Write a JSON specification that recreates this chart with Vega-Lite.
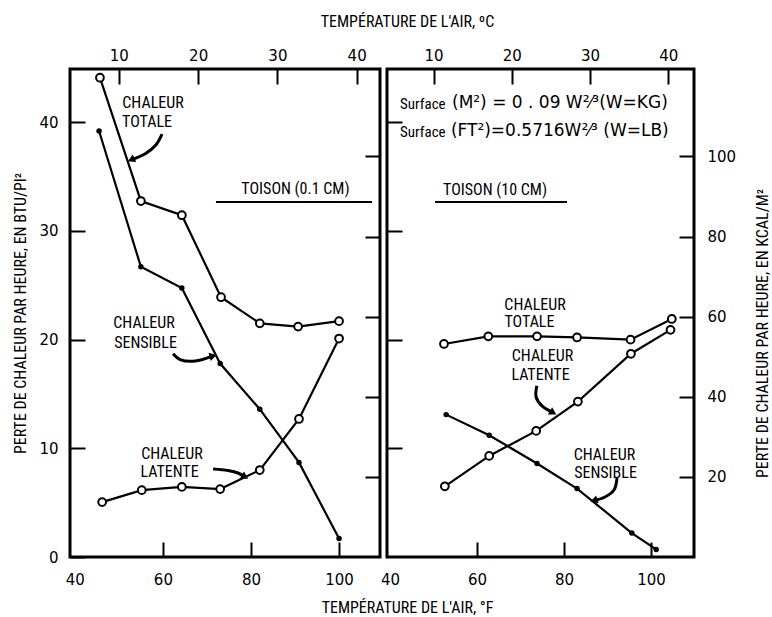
{
  "$schema": "https://vega.github.io/schema/vega-lite/v6.json",
  "background": "white",
  "padding": {"left": 11, "top": 11, "right": 0, "bottom": 0},
  "spacing": 7,
  "bounds": "flush",
  "config": {
    "view": {"stroke": "black", "strokeWidth": 3},
    "axis": {"domain": false, "grid": false, "tickColor": "black", "tickWidth": 2, "tickSize": -15, "labelFont": "DejaVu Sans", "labelFontSize": 15, "labelColor": "black", "labelOverlap": false, "labelFlush": false, "titleFont": "Liberation Sans Narrow, Roboto Condensed, DejaVu Sans Condensed, sans-serif", "titleFontSize": 16, "titleFontWeight": "normal", "titleColor": "black"},
    "text": {"font": "Liberation Sans Narrow, Roboto Condensed, DejaVu Sans Condensed, sans-serif", "fontSize": 16, "color": "black"}
  },
  "datasets": {
    "pts": [
      {"panel": "L", "series": "T", "F": 45.7, "BTU": 44.1},
      {"panel": "L", "series": "T", "F": 55.0, "BTU": 32.75},
      {"panel": "L", "series": "T", "F": 64.3, "BTU": 31.45},
      {"panel": "L", "series": "T", "F": 73.2, "BTU": 23.9},
      {"panel": "L", "series": "T", "F": 82.0, "BTU": 21.5},
      {"panel": "L", "series": "T", "F": 90.7, "BTU": 21.2},
      {"panel": "L", "series": "T", "F": 100.0, "BTU": 21.7},
      {"panel": "L", "series": "S", "F": 45.5, "BTU": 39.2},
      {"panel": "L", "series": "S", "F": 55.0, "BTU": 26.7},
      {"panel": "L", "series": "S", "F": 64.3, "BTU": 24.75},
      {"panel": "L", "series": "S", "F": 73.0, "BTU": 17.8},
      {"panel": "L", "series": "S", "F": 82.0, "BTU": 13.6},
      {"panel": "L", "series": "S", "F": 90.9, "BTU": 8.7},
      {"panel": "L", "series": "S", "F": 100.0, "BTU": 1.7},
      {"panel": "L", "series": "La", "F": 46.2, "BTU": 5.05},
      {"panel": "L", "series": "La", "F": 55.2, "BTU": 6.15},
      {"panel": "L", "series": "La", "F": 64.3, "BTU": 6.45},
      {"panel": "L", "series": "La", "F": 73.0, "BTU": 6.25},
      {"panel": "L", "series": "La", "F": 82.0, "BTU": 8.0},
      {"panel": "L", "series": "La", "F": 90.9, "BTU": 12.7},
      {"panel": "L", "series": "La", "F": 100.0, "BTU": 20.1},
      {"panel": "R", "series": "T", "F": 52.4, "BTU": 19.6},
      {"panel": "R", "series": "T", "F": 62.6, "BTU": 20.3},
      {"panel": "R", "series": "T", "F": 73.8, "BTU": 20.3},
      {"panel": "R", "series": "T", "F": 83.0, "BTU": 20.2},
      {"panel": "R", "series": "T", "F": 95.3, "BTU": 20.0},
      {"panel": "R", "series": "T", "F": 104.8, "BTU": 21.9},
      {"panel": "R", "series": "S", "F": 52.9, "BTU": 13.1},
      {"panel": "R", "series": "S", "F": 62.8, "BTU": 11.2},
      {"panel": "R", "series": "S", "F": 73.8, "BTU": 8.6},
      {"panel": "R", "series": "S", "F": 83.0, "BTU": 6.3},
      {"panel": "R", "series": "S", "F": 95.6, "BTU": 2.2},
      {"panel": "R", "series": "S", "F": 101.2, "BTU": 0.7},
      {"panel": "R", "series": "La", "F": 52.6, "BTU": 6.5},
      {"panel": "R", "series": "La", "F": 62.8, "BTU": 9.3},
      {"panel": "R", "series": "La", "F": 73.6, "BTU": 11.6},
      {"panel": "R", "series": "La", "F": 83.2, "BTU": 14.3},
      {"panel": "R", "series": "La", "F": 95.4, "BTU": 18.7},
      {"panel": "R", "series": "La", "F": 104.5, "BTU": 20.9}
    ],
    "labels": [
      {"panel": "L", "t": "CHALEUR", "F": 57.75, "BTU": 41.75},
      {"panel": "L", "t": "TOTALE", "F": 56.4, "BTU": 40.0},
      {"panel": "L", "t": "TOISON (0.1 CM)", "F": 90.1, "BTU": 33.85},
      {"panel": "L", "t": "CHALEUR", "F": 55.7, "BTU": 21.5},
      {"panel": "L", "t": "SENSIBLE", "F": 56.05, "BTU": 19.65},
      {"panel": "L", "t": "CHALEUR", "F": 62.05, "BTU": 9.5},
      {"panel": "L", "t": "LATENTE", "F": 61.5, "BTU": 7.8},
      {"panel": "R", "t": "TOISON (10 CM)", "F": 64.15, "BTU": 33.75},
      {"panel": "R", "t": "CHALEUR", "F": 73.35, "BTU": 23.2},
      {"panel": "R", "t": "TOTALE", "F": 72.05, "BTU": 21.6},
      {"panel": "R", "t": "CHALEUR", "F": 75.05, "BTU": 18.45},
      {"panel": "R", "t": "LATENTE", "F": 74.6, "BTU": 16.7},
      {"panel": "R", "t": "CHALEUR", "F": 89.3, "BTU": 9.4},
      {"panel": "R", "t": "SENSIBLE", "F": 89.55, "BTU": 7.7}
    ],
    "formula": [
      {"part": "word", "t": "Surface", "F": 42.3, "BTU": 41.65},
      {"part": "word", "t": "Surface", "F": 42.3, "BTU": 39.1},
      {"part": "eq", "t": "(M²) = 0 . 09 W²⁄³(W=KG)", "F": 54.25, "BTU": 41.75},
      {"part": "eq", "t": "(FT²)=0.5716W²⁄³ (W=LB)", "F": 54.0, "BTU": 39.2}
    ],
    "underline": [
      {"panel": "L", "F1": 72.05, "F2": 107.5, "BTU": 32.66},
      {"panel": "R", "F1": 50.35, "F2": 80.7, "BTU": 32.66}
    ],
    "arrows": [
      {"panel": "L", "id": "a1", "o": 1, "F": 59.8, "BTU": 38.9},
      {"panel": "L", "id": "a1", "o": 2, "F": 58.4, "BTU": 37.9},
      {"panel": "L", "id": "a1", "o": 3, "F": 56.0, "BTU": 37.1},
      {"panel": "L", "id": "a1", "o": 4, "F": 52.8, "BTU": 36.55},
      {"panel": "L", "id": "a2", "o": 1, "F": 62.3, "BTU": 18.7},
      {"panel": "L", "id": "a2", "o": 2, "F": 63.9, "BTU": 18.17},
      {"panel": "L", "id": "a2", "o": 3, "F": 67.3, "BTU": 18.03},
      {"panel": "L", "id": "a2", "o": 4, "F": 71.4, "BTU": 18.5},
      {"panel": "L", "id": "a3", "o": 1, "F": 71.4, "BTU": 8.1},
      {"panel": "L", "id": "a3", "o": 2, "F": 74.8, "BTU": 7.96},
      {"panel": "L", "id": "a3", "o": 3, "F": 77.05, "BTU": 7.73},
      {"panel": "L", "id": "a3", "o": 4, "F": 78.65, "BTU": 7.36},
      {"panel": "R", "id": "a4", "o": 1, "F": 73.75, "BTU": 15.75},
      {"panel": "R", "id": "a4", "o": 2, "F": 73.6, "BTU": 14.7},
      {"panel": "R", "id": "a4", "o": 3, "F": 74.95, "BTU": 13.9},
      {"panel": "R", "id": "a4", "o": 4, "F": 77.5, "BTU": 13.28},
      {"panel": "R", "id": "a5", "o": 1, "F": 92.2, "BTU": 7.27},
      {"panel": "R", "id": "a5", "o": 2, "F": 91.5, "BTU": 6.16},
      {"panel": "R", "id": "a5", "o": 3, "F": 89.45, "BTU": 5.52},
      {"panel": "R", "id": "a5", "o": 4, "F": 86.9, "BTU": 5.2}
    ]
  },
  "hconcat": [
    {
      "width": 310,
      "height": 488,
      "resolve": {"axis": {"x": "independent", "y": "independent"}},
      "layer": [
        {
          "data": {"name": "pts"},
          "transform": [{"filter": "datum.panel == 'L'"}],
          "mark": {"type": "line", "color": "black", "strokeWidth": 2.2},
          "encoding": {
            "x": {"field": "F", "type": "quantitative", "scale": {"domain": [38.9, 109.3], "nice": false, "zero": false},
              "axis": {"orient": "bottom", "values": [40, 60, 80, 100], "title": "TEMPÉRATURE DE L'AIR, °F", "titleX": 337, "labelPadding": 30, "titlePadding": 12,
                "tickOpacity": {"condition": {"test": "datum.value == 40", "value": 0}, "value": 1}}},
            "y": {"field": "BTU", "type": "quantitative", "scale": {"domain": [0, 44.9], "nice": false, "zero": false},
              "axis": {"orient": "left", "values": [0, 10, 20, 30, 40], "title": "PERTE DE CHALEUR PAR HEURE, EN BTU/PI²", "labelPadding": 27, "titlePadding": 10}},
            "detail": {"field": "series"}
          }
        },
        {
          "data": {"name": "pts"},
          "transform": [{"filter": "datum.panel == 'L' && datum.series != 'S'"}],
          "mark": {"type": "point", "shape": "circle", "filled": true, "fill": "white", "stroke": "black", "strokeWidth": 2, "size": 60, "opacity": 1},
          "encoding": {
            "x": {"field": "F", "type": "quantitative", "scale": {"domain": [38.9, 109.3], "nice": false, "zero": false},
              "axis": {"orient": "top", "values": [50, 68, 86, 104], "labelExpr": "round((datum.value-32)*5/9)", "title": "TEMPÉRATURE DE L'AIR, ºC", "titleX": 337, "labelPadding": 21, "titlePadding": 19}},
            "y": {"field": "BTU", "type": "quantitative", "scale": {"domain": [0, 44.9], "nice": false, "zero": false},
              "axis": {"orient": "right", "values": [7.3719, 14.7438, 22.1157, 29.4876, 36.8596], "labels": false, "title": null}}
          }
        },
        {
          "data": {"name": "pts"},
          "transform": [{"filter": "datum.panel == 'L' && datum.series == 'S'"}],
          "mark": {"type": "point", "shape": "circle", "filled": true, "color": "black", "size": 30, "opacity": 1},
          "encoding": {
            "x": {"field": "F", "type": "quantitative", "scale": {"domain": [38.9, 109.3], "nice": false, "zero": false}, "axis": null},
            "y": {"field": "BTU", "type": "quantitative", "scale": {"domain": [0, 44.9], "nice": false, "zero": false}, "axis": null}
          }
        },
        {
          "data": {"name": "labels"},
          "transform": [{"filter": "datum.panel == 'L'"}],
          "mark": {"type": "text", "align": "center", "baseline": "middle"},
          "encoding": {
            "x": {"field": "F", "type": "quantitative", "scale": {"domain": [38.9, 109.3], "nice": false, "zero": false}, "axis": null},
            "y": {"field": "BTU", "type": "quantitative", "scale": {"domain": [0, 44.9], "nice": false, "zero": false}, "axis": null},
            "text": {"field": "t"}
          }
        },
        {
          "data": {"name": "underline"},
          "transform": [{"filter": "datum.panel == 'L'"}],
          "mark": {"type": "rule", "color": "black", "strokeWidth": 2},
          "encoding": {
            "x": {"field": "F1", "type": "quantitative", "scale": {"domain": [38.9, 109.3], "nice": false, "zero": false}, "axis": null},
            "x2": {"field": "F2"},
            "y": {"field": "BTU", "type": "quantitative", "scale": {"domain": [0, 44.9], "nice": false, "zero": false}, "axis": null}
          }
        },
        {
          "data": {"name": "arrows"},
          "transform": [{"filter": "datum.panel == 'L'"}],
          "mark": {"type": "line", "color": "black", "strokeWidth": 3, "interpolate": "catmull-rom"},
          "encoding": {
            "x": {"field": "F", "type": "quantitative", "scale": {"domain": [38.9, 109.3], "nice": false, "zero": false}, "axis": null},
            "y": {"field": "BTU", "type": "quantitative", "scale": {"domain": [0, 44.9], "nice": false, "zero": false}, "axis": null},
            "detail": {"field": "id"},
            "order": {"field": "o"}
          }
        },
        {
          "data": {"name": "arrows"},
          "transform": [{"filter": "datum.id == 'a1' && datum.o == 4"}],
          "mark": {"type": "point", "shape": "triangle-up", "filled": true, "color": "black", "size": 70, "angle": 245, "opacity": 1},
          "encoding": {
            "x": {"field": "F", "type": "quantitative", "scale": {"domain": [38.9, 109.3], "nice": false, "zero": false}, "axis": null},
            "y": {"field": "BTU", "type": "quantitative", "scale": {"domain": [0, 44.9], "nice": false, "zero": false}, "axis": null}
          }
        },
        {
          "data": {"name": "arrows"},
          "transform": [{"filter": "datum.id == 'a2' && datum.o == 4"}],
          "mark": {"type": "point", "shape": "triangle-up", "filled": true, "color": "black", "size": 70, "angle": 75, "opacity": 1},
          "encoding": {
            "x": {"field": "F", "type": "quantitative", "scale": {"domain": [38.9, 109.3], "nice": false, "zero": false}, "axis": null},
            "y": {"field": "BTU", "type": "quantitative", "scale": {"domain": [0, 44.9], "nice": false, "zero": false}, "axis": null}
          }
        },
        {
          "data": {"name": "arrows"},
          "transform": [{"filter": "datum.id == 'a3' && datum.o == 4"}],
          "mark": {"type": "point", "shape": "triangle-up", "filled": true, "color": "black", "size": 70, "angle": 120, "opacity": 1},
          "encoding": {
            "x": {"field": "F", "type": "quantitative", "scale": {"domain": [38.9, 109.3], "nice": false, "zero": false}, "axis": null},
            "y": {"field": "BTU", "type": "quantitative", "scale": {"domain": [0, 44.9], "nice": false, "zero": false}, "axis": null}
          }
        }
      ]
    },
    {
      "width": 307,
      "height": 488,
      "resolve": {"axis": {"x": "independent", "y": "independent"}},
      "layer": [
        {
          "data": {"name": "pts"},
          "transform": [{"filter": "datum.panel == 'R'"}],
          "mark": {"type": "line", "color": "black", "strokeWidth": 2.2},
          "encoding": {
            "x": {"field": "F", "type": "quantitative", "scale": {"domain": [39.3, 109.9], "nice": false, "zero": false},
              "axis": {"orient": "bottom", "values": [40, 60, 80, 100], "title": null, "labelPadding": 30,
                "tickOpacity": {"condition": {"test": "datum.value == 40", "value": 0}, "value": 1}}},
            "y": {"field": "BTU", "type": "quantitative", "scale": {"domain": [0, 44.9], "nice": false, "zero": false},
              "axis": {"orient": "left", "values": [10, 20, 30, 40], "labels": false, "title": null}},
            "detail": {"field": "series"}
          }
        },
        {
          "data": {"name": "pts"},
          "transform": [{"filter": "datum.panel == 'R' && datum.series != 'S'"}],
          "mark": {"type": "point", "shape": "circle", "filled": true, "fill": "white", "stroke": "black", "strokeWidth": 2, "size": 60, "opacity": 1},
          "encoding": {
            "x": {"field": "F", "type": "quantitative", "scale": {"domain": [39.3, 109.9], "nice": false, "zero": false},
              "axis": {"orient": "top", "values": [50, 68, 86, 104], "labelExpr": "round((datum.value-32)*5/9)", "title": null, "labelPadding": 21}},
            "y": {"field": "BTU", "type": "quantitative", "scale": {"domain": [0, 44.9], "nice": false, "zero": false},
              "axis": {"orient": "right", "values": [7.3719, 14.7438, 22.1157, 29.4876, 36.8596], "labelExpr": "round(datum.value*2.713)", "title": "PERTE DE CHALEUR PAR HEURE, EN KCAL/M²", "titleAngle": 270, "labelPadding": 28, "titlePadding": 35, "titleY": 264}}
          }
        },
        {
          "data": {"name": "pts"},
          "transform": [{"filter": "datum.panel == 'R' && datum.series == 'S'"}],
          "mark": {"type": "point", "shape": "circle", "filled": true, "color": "black", "size": 30, "opacity": 1},
          "encoding": {
            "x": {"field": "F", "type": "quantitative", "scale": {"domain": [39.3, 109.9], "nice": false, "zero": false}, "axis": null},
            "y": {"field": "BTU", "type": "quantitative", "scale": {"domain": [0, 44.9], "nice": false, "zero": false}, "axis": null}
          }
        },
        {
          "data": {"name": "labels"},
          "transform": [{"filter": "datum.panel == 'R'"}],
          "mark": {"type": "text", "align": "center", "baseline": "middle"},
          "encoding": {
            "x": {"field": "F", "type": "quantitative", "scale": {"domain": [39.3, 109.9], "nice": false, "zero": false}, "axis": null},
            "y": {"field": "BTU", "type": "quantitative", "scale": {"domain": [0, 44.9], "nice": false, "zero": false}, "axis": null},
            "text": {"field": "t"}
          }
        },
        {
          "data": {"name": "formula"},
          "transform": [{"filter": "datum.part == 'word'"}],
          "mark": {"type": "text", "align": "left", "baseline": "middle", "fontSize": 15},
          "encoding": {
            "x": {"field": "F", "type": "quantitative", "scale": {"domain": [39.3, 109.9], "nice": false, "zero": false}, "axis": null},
            "y": {"field": "BTU", "type": "quantitative", "scale": {"domain": [0, 44.9], "nice": false, "zero": false}, "axis": null},
            "text": {"field": "t"}
          }
        },
        {
          "data": {"name": "formula"},
          "transform": [{"filter": "datum.part == 'eq'"}],
          "mark": {"type": "text", "align": "left", "baseline": "middle", "fontSize": 17, "font": "DejaVu Sans"},
          "encoding": {
            "x": {"field": "F", "type": "quantitative", "scale": {"domain": [39.3, 109.9], "nice": false, "zero": false}, "axis": null},
            "y": {"field": "BTU", "type": "quantitative", "scale": {"domain": [0, 44.9], "nice": false, "zero": false}, "axis": null},
            "text": {"field": "t"}
          }
        },
        {
          "data": {"name": "underline"},
          "transform": [{"filter": "datum.panel == 'R'"}],
          "mark": {"type": "rule", "color": "black", "strokeWidth": 2},
          "encoding": {
            "x": {"field": "F1", "type": "quantitative", "scale": {"domain": [39.3, 109.9], "nice": false, "zero": false}, "axis": null},
            "x2": {"field": "F2"},
            "y": {"field": "BTU", "type": "quantitative", "scale": {"domain": [0, 44.9], "nice": false, "zero": false}, "axis": null}
          }
        },
        {
          "data": {"name": "arrows"},
          "transform": [{"filter": "datum.panel == 'R'"}],
          "mark": {"type": "line", "color": "black", "strokeWidth": 3, "interpolate": "catmull-rom"},
          "encoding": {
            "x": {"field": "F", "type": "quantitative", "scale": {"domain": [39.3, 109.9], "nice": false, "zero": false}, "axis": null},
            "y": {"field": "BTU", "type": "quantitative", "scale": {"domain": [0, 44.9], "nice": false, "zero": false}, "axis": null},
            "detail": {"field": "id"},
            "order": {"field": "o"}
          }
        },
        {
          "data": {"name": "arrows"},
          "transform": [{"filter": "datum.id == 'a4' && datum.o == 4"}],
          "mark": {"type": "point", "shape": "triangle-up", "filled": true, "color": "black", "size": 70, "angle": 121, "opacity": 1},
          "encoding": {
            "x": {"field": "F", "type": "quantitative", "scale": {"domain": [39.3, 109.9], "nice": false, "zero": false}, "axis": null},
            "y": {"field": "BTU", "type": "quantitative", "scale": {"domain": [0, 44.9], "nice": false, "zero": false}, "axis": null}
          }
        },
        {
          "data": {"name": "arrows"},
          "transform": [{"filter": "datum.id == 'a5' && datum.o == 4"}],
          "mark": {"type": "point", "shape": "triangle-up", "filled": true, "color": "black", "size": 70, "angle": 252, "opacity": 1},
          "encoding": {
            "x": {"field": "F", "type": "quantitative", "scale": {"domain": [39.3, 109.9], "nice": false, "zero": false}, "axis": null},
            "y": {"field": "BTU", "type": "quantitative", "scale": {"domain": [0, 44.9], "nice": false, "zero": false}, "axis": null}
          }
        }
      ]
    }
  ]
}
